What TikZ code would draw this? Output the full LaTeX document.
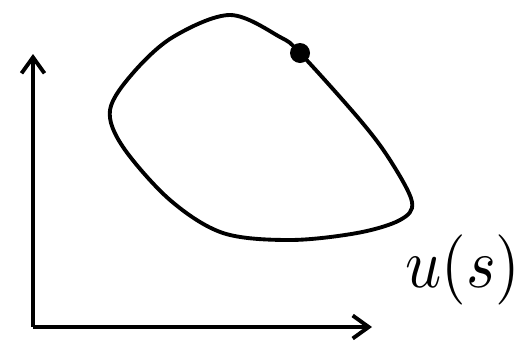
\documentclass[tikz,border=0pt]{standalone}
\usetikzlibrary{arrows.meta}
\begin{document}
\begin{tikzpicture}[line width=2.2pt]

\useasboundingbox (0,0) rectangle (10.46,7.26);

% Axes
\coordinate (O) at (0.66,0.72);
\coordinate (Ytop) at (0.66,6.18);
\coordinate (Xend) at (7.44,0.72);

\draw[-{Straight Barb[length=3.2mm,width=4.6mm]}]
(O)
--
(Ytop);

\draw[-{Straight Barb[length=3.2mm,width=4.6mm]}]
(O)
--
(Xend);

% Courbe
\draw plot[smooth cycle, tension=0.55] coordinates {
(4.60,6.96) (5.60,6.52) (6.00,6.20) (7.20,4.86) (7.80,4.06)
(8.24,3.22) (8.00,2.86) (7.14,2.60) (5.80,2.46) (4.46,2.60)
(3.40,3.26) (2.46,4.32) (2.20,5.06) (2.66,5.80) (3.46,6.52)};

\fill
(6.00,6.20)
circle (0.2);

\node[anchor=base, inner sep=0pt] (u) at (9.26,1.52)
{\scalebox{3.6}[4.0]{$u(s)$}};

\end{tikzpicture}
\end{document}
